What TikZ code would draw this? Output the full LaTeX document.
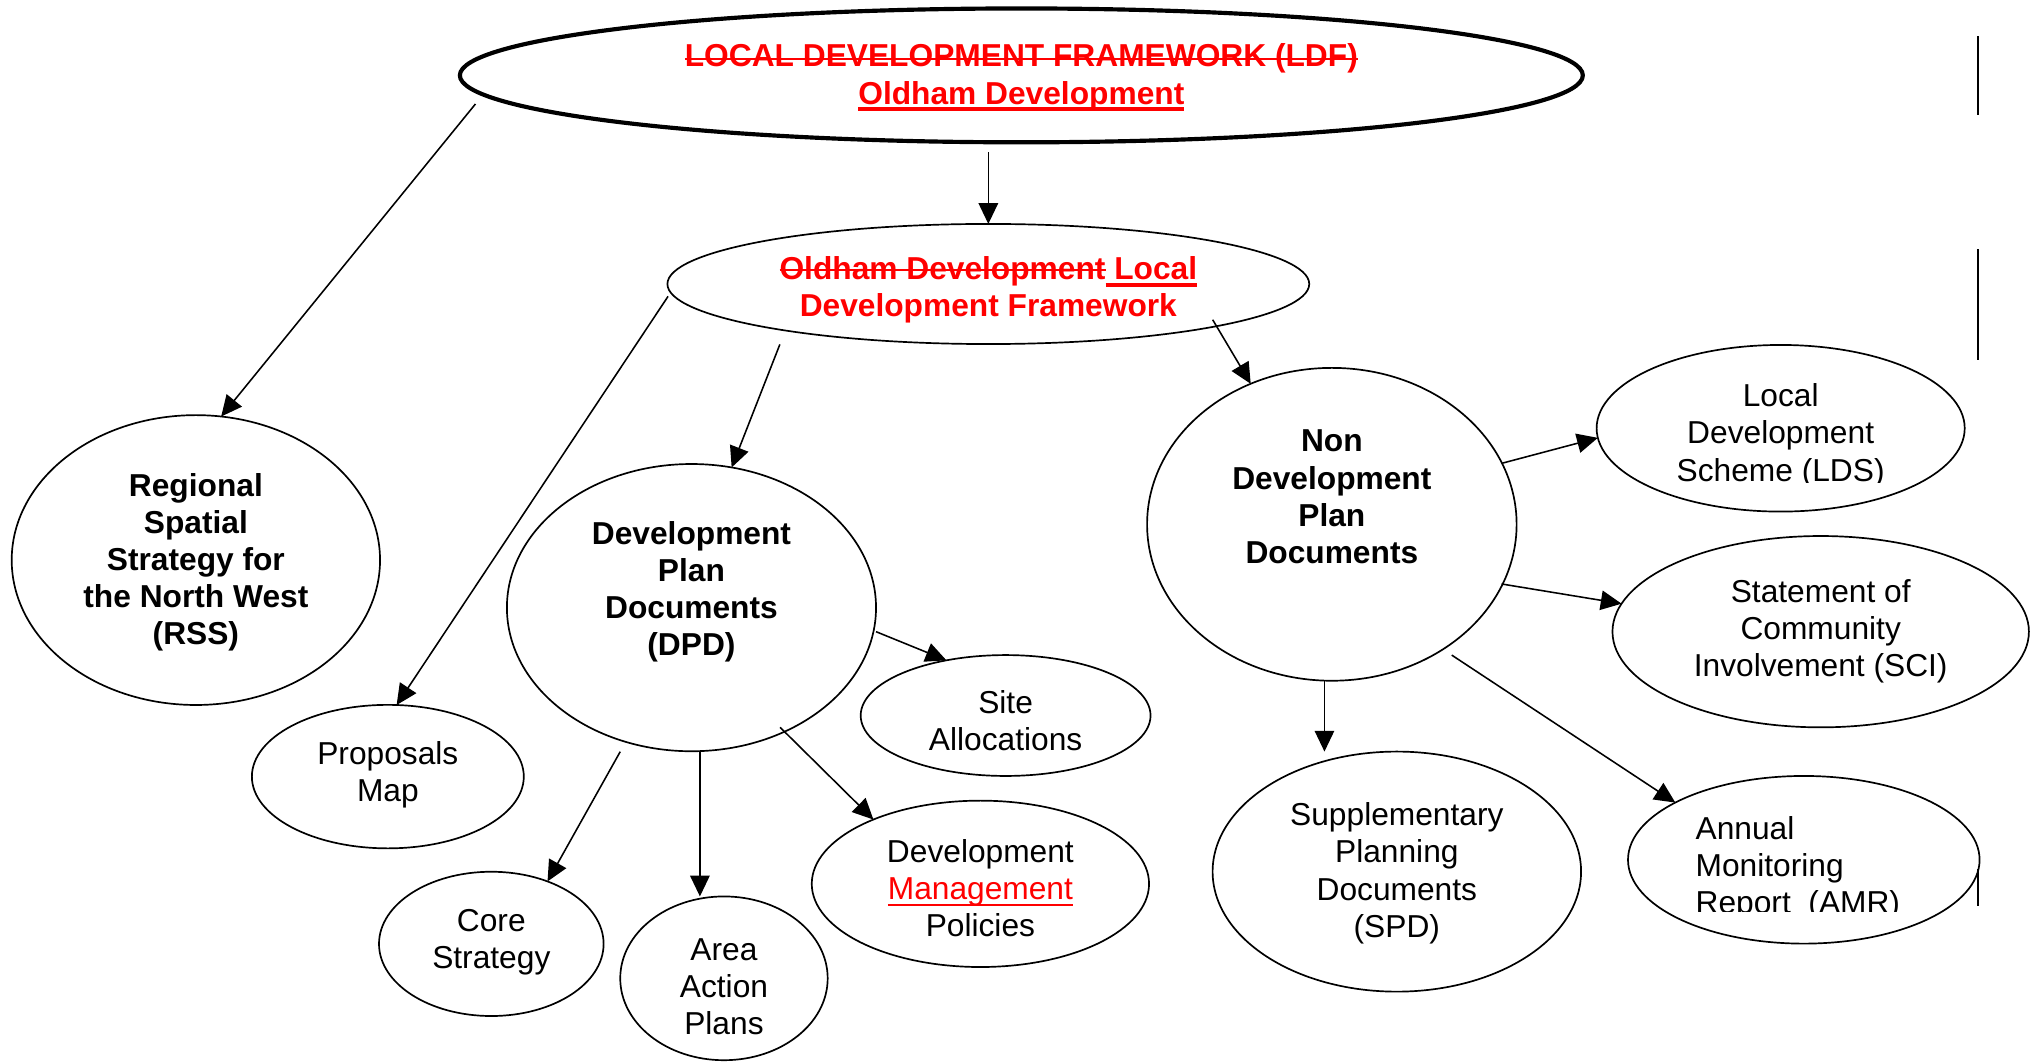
\documentclass[tikz,border=0pt]{standalone}
\usepackage{fontspec}
\setmainfont{Liberation Sans}
\usetikzlibrary{shapes.geometric,arrows.meta,calc}
\newsavebox{\mylinebox}
% #1 raise, #2 thickness, #3 text
\newcommand{\mystrike}[3]{\sbox{\mylinebox}{#3}\rlap{\rule[#1]{\wd\mylinebox}{#2}}\usebox{\mylinebox}}
% #1 thickness, #2 depth of lower edge, #3 text
\newcommand{\myul}[3]{\sbox{\mylinebox}{#3}\rlap{\rule[-#2]{\wd\mylinebox}{#1}}\usebox{\mylinebox}}
\tikzset{
  ell/.style={draw, ellipse, line width=1.3pt, inner sep=0pt, outer sep=0pt},
  txt/.style={font=\fontsize{24.4}{28.5}\selectfont, align=center, inner sep=0pt},
  btxt/.style={font=\bfseries\fontsize{24.4}{28.5}\selectfont, align=center, inner sep=0pt},
  rtxt/.style={font=\bfseries\fontsize{24.4}{28.3}\selectfont, text=red, align=center, inner sep=0pt},
  arr/.style={-{Triangle[length=16pt,width=15pt]}, line width=1.2pt},
  sidebar/.style={line width=1.3pt}
}
\begin{document}
\begin{tikzpicture}[x=1pt,y=-1pt]
\fill[white] (0,0) rectangle (1568,818.6);
\useasboundingbox (0,0) rectangle (1568,818.6);

% top ellipse
\node[ell, line width=3.2pt, minimum width=864pt, minimum height=103pt,
  label={[rtxt,font=\bfseries\fontsize{24.4}{29.5}\selectfont,yshift=-1.6pt]center:{\mystrike{4.6pt}{1.6pt}{LOCAL DEVELOPMENT FRAMEWORK (LDF)}\\ \myul{3.2pt}{5.1pt}{Oldham Development}}}]
  (ldf) at (785.8,58) {};

% second ellipse
\node[ell, minimum width=493.8pt, minimum height=92.4pt,
  label={[rtxt,yshift=-4.3pt]center:{\mystrike{6.3pt}{1.8pt}{Oldham Development}\myul{2.7pt}{5.8pt}{ Local}\\Development Framework}}]
  (ldfb) at (760.4,218.5) {};

% left branch
\node[ell, minimum width=283.4pt, minimum height=223pt,
  label={[btxt,yshift=-1.6pt]center:{Regional\\Spatial\\Strategy for\\the North West\\(RSS)}}]
  (rss) at (150.7,430.9) {};

\node[ell, minimum width=284pt, minimum height=221pt,
  label={[btxt,yshift=12.1pt]center:{Development\\Plan\\Documents\\(DPD)}}]
  (dpd) at (532,467.5) {};

\node[ell, minimum width=209.2pt, minimum height=110.4pt,
  label={[txt,yshift=1.3pt]center:{Proposals\\Map}}]
  (prop) at (298.4,597.5) {};

\node[ell, minimum width=223pt, minimum height=93pt,
  label={[txt,yshift=-3.8pt]center:{Site\\Allocations}}]
  (site) at (773.7,550.5) {};

\node[ell, minimum width=259.5pt, minimum height=128pt,
  label={[txt,yshift=-3.6pt]center:{Development\\{\color{red}\myul{1.7pt}{4.6pt}{Management}}\\Policies}}]
  (dmp) at (754.3,680) {};

\node[ell, minimum width=172.8pt, minimum height=111pt,
  label={[txt,yshift=1.3pt]center:{Core\\Strategy}}]
  (core) at (378,726.2) {};

\node[ell, minimum width=159.6pt, minimum height=126pt,
  label={[txt,yshift=-6.2pt]center:{Area\\Action\\Plans}}]
  (aap) at (557,752.7) {};

% right branch
\node[ell, minimum width=284.3pt, minimum height=240.7pt,
  label={[btxt,yshift=21.2pt]center:{Non\\Development\\Plan\\Documents}}]
  (ndpd) at (1024.7,403.4) {};

\node[ell, minimum width=283.2pt, minimum height=128.2pt] (lds) at (1370,329.5) {};
\begin{scope}
  \clip (1228,280) rectangle (1512,371);
  \node[txt, anchor=north] (ldst) at (1370,295.2) {Local\\Development\\Scheme (LDS)};
\end{scope}

\node[ell, minimum width=320.4pt, minimum height=147.2pt,
  label={[txt,yshift=0.4pt]center:{Statement of\\Community\\Involvement (SCI)}}]
  (sci) at (1400.8,486) {};

\node[ell, minimum width=270.5pt, minimum height=129pt] (amr) at (1387.8,661.5) {};
\begin{scope}
  \clip (1260,600) rectangle (1520,701.5);
  \node[txt, align=left, anchor=north west] (amrt) at (1304.4,627.7) {Annual\\Monitoring\\Report\ \ (AMR)};
\end{scope}

\node[ell, minimum width=283.5pt, minimum height=184.7pt,
  label={[txt,yshift=-1.3pt]center:{Supplementary\\Planning\\Documents\\(SPD)}}]
  (spd) at (1074.7,670.6) {};

% connectors
\coordinate (a1) at (365.8,80);
\coordinate (a2) at (760.4,117);
\coordinate (a3) at (600,265);
\coordinate (a4) at (514,228);
\coordinate (a5) at (933,246);
\coordinate (a6) at (1155.3,356.5);
\coordinate (a7) at (1155.3,449.3);
\coordinate (a8) at (1116.9,504);
\coordinate (a9) at (1019,523.5);
\coordinate (a10) at (674,486);
\coordinate (a11) at (600.2,559.6);
\coordinate (a12) at (477.2,578.3);
\coordinate (a13) at (538.5,578.5);

\draw[arr] (a1) -- (rss.80.5);
\draw[arr] (a2) -- (a2 |- ldfb.north);
\draw[arr] (a3) -- (dpd.74.4);
\draw[arr] (a4) -- (prop.83.6);
\draw[arr] (a5) -- (ndpd.120.4);
\draw[arr] (a6) -- (lds.183.6);
\draw[arr] (a7) -- (sci.172.7);
\draw[arr] (a8) -- (amr.156.8);
\draw[arr] (a9) -- (a9 |- spd.north);
\draw[arr] (a10) -- (site.137.3);
\draw[arr] (a11) -- (dmp.149.9);
\draw[arr] (a12) -- (core.48);
\draw[arr] (a13) -- (a13 |- aap.north);

% side bars
\draw[sidebar] (1521.6,28) -- (1521.6,88.5);
\draw[sidebar] (1521.6,191.6) -- (1521.6,277);
\draw[sidebar] (1521.6,668.3) -- (1521.6,696.7);
\end{tikzpicture}
\end{document}
